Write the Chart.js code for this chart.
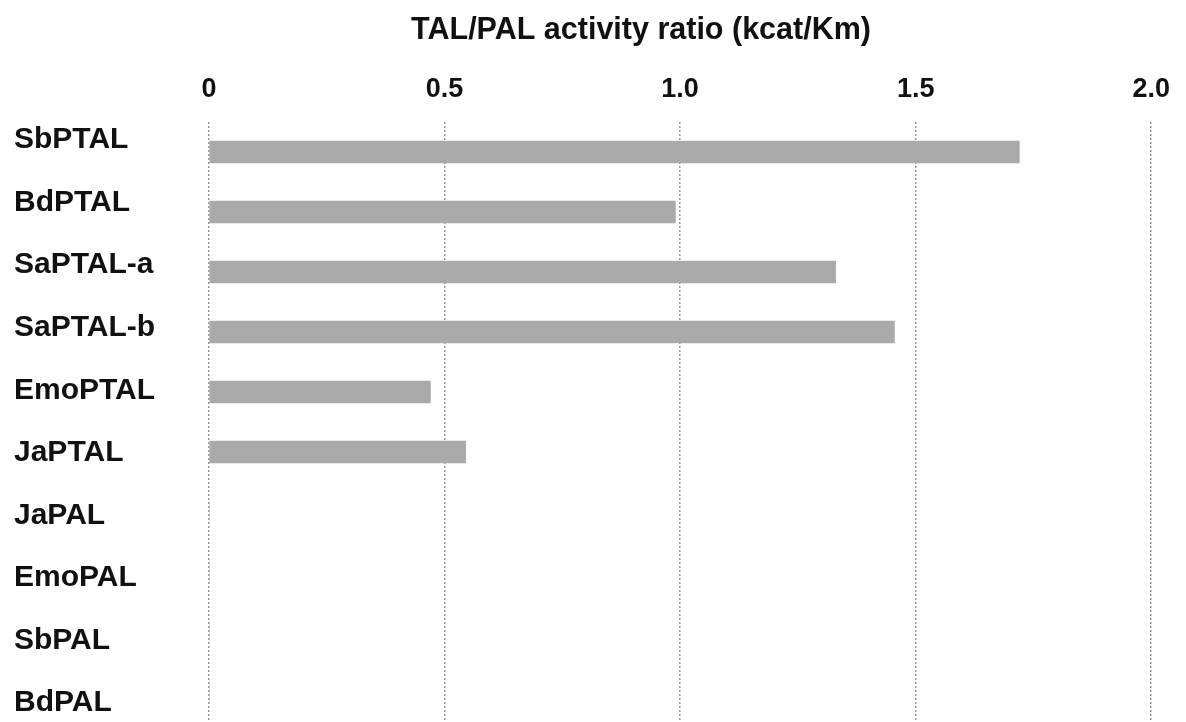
<!DOCTYPE html>
<html>
<head>
<meta charset="utf-8">
<title>TAL/PAL activity ratio</title>
<script src="https://cdn.jsdelivr.net/npm/chart.js@4/dist/chart.umd.min.js"></script>
<style>
  html, body { margin: 0; padding: 0; background: #ffffff; }
  #wrap { width: 1186px; height: 722px; position: relative; }
</style>
</head>
<body>
<div id="wrap"><canvas id="chart"></canvas></div>
<script>
// Enzymes, top to bottom
const enzymes = ['SbPTAL', 'BdPTAL', 'SaPTAL-a', 'SaPTAL-b', 'EmoPTAL', 'JaPTAL', 'JaPAL', 'EmoPAL', 'SbPAL', 'BdPAL'];
// TAL/PAL activity ratio (kcat/Km)
const ratios = [1.72, 0.99, 1.33, 1.455, 0.47, 0.545, 0, 0, 0, 0];
// Ratio axis ticks
const ratioTicks = [0, 0.5, 1.0, 1.5, 2.0];
const ratioTickLabels = ['0', '0.5', '1.0', '1.5', '2.0'];
const axisHeading = 'TAL/PAL activity ratio (kcat/Km)';

const FONT = '"Liberation Sans", Arial, Helvetica, sans-serif';
const INK = '#111111';

// Heading above the ratio axis
const headingPlugin = {
  id: 'axisHeading',
  afterDraw(chart, args, opts) {
    const ctx = chart.ctx;
    ctx.save();
    ctx.font = 'bold ' + opts.size + 'px ' + FONT;
    ctx.fillStyle = INK;
    ctx.textAlign = 'center';
    ctx.textBaseline = 'middle';
    ctx.fillText(opts.text, chart.width * opts.xFrac, opts.y);
    ctx.restore();
  }
};

new Chart(document.getElementById('chart'), {
  type: 'bar',
  data: {
    labels: enzymes,
    datasets: [{
      label: axisHeading,
      data: ratios,
      backgroundColor: '#aaaaaa',
      borderWidth: 0,
      barThickness: 22,
      yAxisID: 'y',
      xAxisID: 'x'
    }]
  },
  options: {
    indexAxis: 'y',
    responsive: true,
    maintainAspectRatio: false,
    animation: false,
    layout: { padding: { top: 50, left: 14, right: 28, bottom: 0 } },
    plugins: {
      legend: { display: false },
      tooltip: { enabled: false },
      axisHeading: { text: axisHeading, size: 30.5, xFrac: 0.5405, y: 31 }
    },
    scales: {
      x: {
        type: 'linear',
        position: 'top',
        min: 0,
        max: 2,
        afterBuildTicks: (scale) => { scale.ticks = ratioTicks.map(v => ({ value: v })); },
        afterFit: (scale) => { scale.height = 72; },
        ticks: {
          padding: 16,
          color: INK,
          font: { family: FONT, size: 27, weight: 'bold' },
          callback: (v, i) => ratioTickLabels[i]
        },
        grid: { color: '#999999', lineWidth: 1.5, drawTicks: false },
        border: { display: false, dash: [2, 2] }
      },
      y: {
        type: 'category',
        display: false,
        offset: true,
        grid: { display: false }
      },
      names: {
        type: 'linear',
        position: 'left',
        reverse: true,
        offset: false,
        min: -0.288,
        max: 9.303,
        afterBuildTicks: (scale) => { scale.ticks = enzymes.map((e, i) => ({ value: i })); },
        afterFit: (scale) => {
          scale.width = 195;
          scale.paddingTop = 0;
          scale.paddingBottom = 0;
        },
        ticks: {
          crossAlign: 'far',
          color: INK,
          font: { family: FONT, size: 30, weight: 'bold' },
          callback: (v) => enzymes[v]
        },
        grid: { display: false, offset: false },
        border: { display: false }
      }
    }
  },
  plugins: [headingPlugin]
});
</script>
</body>
</html>
